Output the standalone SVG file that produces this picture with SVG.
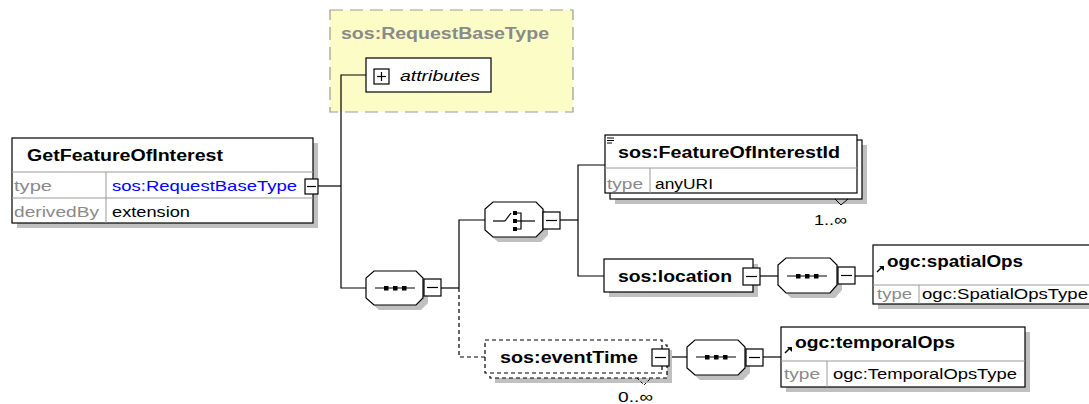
<svg xmlns="http://www.w3.org/2000/svg" width="1089" height="404" viewBox="0 0 1089 404">
<style>
.bx{fill:#fff;stroke:#000;stroke-width:1.2}
.sh{fill:#c0c0c0;stroke:none}
.sep{stroke:#9a9a9a;stroke-width:1}
.ln{fill:none;stroke:#000;stroke-width:1.2}
.dl{fill:none;stroke:#000;stroke-width:1.2;stroke-dasharray:4 3}
.t{font-family:"Liberation Sans",Arial,sans-serif;font-size:15px;fill:#000}
.b{font-weight:bold;font-size:16px}
.g{fill:#8a8a8a}
.bl{fill:#0000ff}
</style>
<defs>
<g id="minus"><rect x="0" y="0" width="17" height="17" fill="#fff" stroke="#000" stroke-width="1.2"/><line x1="3" y1="8.5" x2="14" y2="8.5" stroke="#000" stroke-width="1.2"/></g>
<g id="seqicon"><line x1="-20" y1="0" x2="20" y2="0" stroke="#000" stroke-width="1.2"/><rect x="-11" y="-2" width="4.5" height="4.5"/><rect x="-2" y="-2" width="4.5" height="4.5"/><rect x="7" y="-2" width="4.5" height="4.5"/></g>
<g id="refarrow"><line x1="0" y1="6" x2="5" y2="1" stroke="#000" stroke-width="1.5"/><polygon points="2,0 7,0 7,5"/></g>
</defs>

<g id="requestBaseType">
<rect x="330" y="10" width="243" height="102" fill="#fcfcc6" stroke="#9a9a9a" stroke-width="1.2" stroke-dasharray="13 7"/>
<text class="t b g" x="341" y="39" textLength="208" lengthAdjust="spacingAndGlyphs">sos:RequestBaseType</text>
</g>

<g id="connectors">
<line class="ln" x1="318" y1="186" x2="341" y2="186"/>
<polyline class="ln" points="366,75 341,75 341,288 366,288"/>
<line class="ln" x1="441" y1="288" x2="459" y2="288"/>
<polyline class="ln" points="485,220 459,220 459,288"/>
<polyline class="dl" points="459,288 459,357 485,357"/>
<line class="ln" x1="559" y1="220" x2="578" y2="220"/>
<polyline class="ln" points="605,165 578,165 578,276 604,276"/>
<line class="ln" x1="760" y1="276" x2="778" y2="276"/>
<line class="ln" x1="855" y1="276" x2="873" y2="276"/>
<line class="ln" x1="669" y1="357" x2="687" y2="357"/>
<line class="ln" x1="763" y1="357" x2="781" y2="357"/>
</g>

<g id="attributes">
<rect class="bx" x="366" y="58" width="125" height="34"/>
<rect x="374" y="69" width="15" height="15" fill="#fff" stroke="#000" stroke-width="1.2"/>
<line x1="377" y1="76.5" x2="386" y2="76.5" stroke="#000" stroke-width="1.2"/>
<line x1="381.5" y1="72" x2="381.5" y2="81" stroke="#000" stroke-width="1.2"/>
<text class="t" x="400" y="81" font-style="italic" textLength="80" lengthAdjust="spacingAndGlyphs">attributes</text>
</g>

<g id="getFeatureOfInterest">
<rect class="sh" x="17" y="143" width="301" height="85"/>
<rect class="bx" x="12" y="138" width="301" height="85"/>
<line class="sep" x1="12" y1="172" x2="313" y2="172"/>
<line class="sep" x1="12" y1="198" x2="313" y2="198"/>
<line class="sep" x1="106" y1="172" x2="106" y2="223"/>
<text class="t b" x="27" y="161" textLength="196" lengthAdjust="spacingAndGlyphs">GetFeatureOfInterest</text>
<text class="t g" x="14" y="191" textLength="38" lengthAdjust="spacingAndGlyphs">type</text>
<text class="t bl" x="112" y="191" textLength="185" lengthAdjust="spacingAndGlyphs">sos:RequestBaseType</text>
<text class="t g" x="14" y="217" textLength="85" lengthAdjust="spacingAndGlyphs">derivedBy</text>
<text class="t" x="112" y="217" textLength="78" lengthAdjust="spacingAndGlyphs">extension</text>
<rect x="305" y="179" width="13" height="15" fill="#fff" stroke="#000" stroke-width="1.2"/>
<line x1="307" y1="186.5" x2="316" y2="186.5" stroke="#000" stroke-width="1.2"/>
</g>

<g id="sequence1">
<path class="sh" d="M379,276 H421 L428,283 V303 L421,310 H379 L371,303 V283 Z"/>
<path class="bx" d="M374,271 H416 L423,278 V298 L416,305 H374 L366,298 V278 Z"/>
<use href="#seqicon" x="395" y="288"/>
<use href="#minus" x="424" y="279"/>
</g>

<g id="choice">
<path class="sh" d="M498,207 H541 L548,214 V235 L541,242 H498 L490,235 V214 Z"/>
<path class="bx" d="M493,202 H536 L543,209 V230 L536,237 H493 L485,230 V209 Z"/>
<line x1="493" y1="221" x2="505" y2="221" stroke="#000" stroke-width="1.2"/>
<line x1="505" y1="221" x2="511" y2="213" stroke="#000" stroke-width="1.2"/>
<rect x="513" y="211" width="4" height="4"/>
<rect x="513" y="219" width="4" height="4"/>
<rect x="513" y="227" width="4" height="4"/>
<polyline points="517,213 521,213 521,229 517,229" fill="none" stroke="#000" stroke-width="1.2"/>
<line x1="517" y1="221" x2="535" y2="221" stroke="#000" stroke-width="1.2"/>
<use href="#minus" x="543" y="212"/>
</g>

<g id="featureOfInterestId">
<rect class="sh" x="615" y="145" width="252" height="59"/>
<rect class="bx" x="610" y="140" width="252" height="59"/>
<rect class="bx" x="605" y="135" width="252" height="58"/>
<line class="sep" x1="605" y1="168" x2="857" y2="168"/>
<line class="sep" x1="650" y1="168" x2="650" y2="193"/>
<line x1="607" y1="138" x2="614" y2="138" stroke="#000" stroke-width="1"/>
<line x1="607" y1="140.5" x2="614" y2="140.5" stroke="#000" stroke-width="1"/>
<line x1="607" y1="143" x2="612" y2="143" stroke="#000" stroke-width="1"/>
<text class="t b" x="618" y="158" textLength="222" lengthAdjust="spacingAndGlyphs">sos:FeatureOfInterestId</text>
<text class="t g" x="607" y="189" textLength="36" lengthAdjust="spacingAndGlyphs">type</text>
<text class="t" x="655" y="189" textLength="58" lengthAdjust="spacingAndGlyphs">anyURI</text>
<polyline points="835,199 841,205 848,199" fill="none" stroke="#000" stroke-width="1"/>
<text class="t" x="814" y="225" textLength="33" lengthAdjust="spacingAndGlyphs">1..∞</text>
</g>

<g id="location">
<rect class="sh" x="609" y="264" width="149" height="33"/>
<rect class="bx" x="604" y="259" width="149" height="33"/>
<text class="t b" x="618" y="282" textLength="114" lengthAdjust="spacingAndGlyphs">sos:location</text>
<use href="#minus" x="743" y="268"/>
</g>

<g id="sequence2">
<path class="sh" d="M791,263 H835 L842,270 V290 L835,298 H791 L783,290 V270 Z"/>
<path class="bx" d="M786,258 H830 L837,265 V285 L830,293 H786 L778,285 V265 Z"/>
<use href="#seqicon" x="807" y="276"/>
<use href="#minus" x="838" y="267"/>
</g>

<g id="spatialOps">
<rect class="sh" x="878" y="250" width="230" height="59"/>
<rect class="bx" x="873" y="245" width="230" height="59"/>
<line class="sep" x1="873" y1="285" x2="1089" y2="285"/>
<line class="sep" x1="919" y1="285" x2="919" y2="304"/>
<use href="#refarrow" x="877" y="266"/>
<text class="t b" x="887" y="267" textLength="136" lengthAdjust="spacingAndGlyphs">ogc:spatialOps</text>
<text class="t g" x="877" y="299" textLength="35" lengthAdjust="spacingAndGlyphs">type</text>
<text class="t" x="922" y="299" textLength="166" lengthAdjust="spacingAndGlyphs">ogc:SpatialOpsType</text>
</g>

<g id="eventTime">
<rect class="sh" x="495" y="350" width="177" height="33"/>
<rect x="490" y="345" width="177" height="33" fill="#fff" stroke="#000" stroke-width="1.2" stroke-dasharray="4 3"/>
<rect x="485" y="340" width="177" height="33" fill="#fff" stroke="#000" stroke-width="1.2" stroke-dasharray="4 3"/>
<text class="t b" x="500" y="363" textLength="138" lengthAdjust="spacingAndGlyphs">sos:eventTime</text>
<use href="#minus" x="652" y="349"/>
<polyline points="637,378 644,385 651,378" fill="none" stroke="#000" stroke-width="1" stroke-dasharray="3 2"/>
<text class="t" x="618" y="402" textLength="35" lengthAdjust="spacingAndGlyphs">0..∞</text>
</g>

<g id="sequence3">
<path class="sh" d="M700,345 H743 L750,352 V373 L743,380 H700 L692,373 V352 Z"/>
<path class="bx" d="M695,340 H738 L745,347 V368 L738,375 H695 L687,368 V347 Z"/>
<use href="#seqicon" x="716" y="357"/>
<use href="#minus" x="746" y="349"/>
</g>

<g id="temporalOps">
<rect class="sh" x="786" y="332" width="244" height="60"/>
<rect class="bx" x="781" y="327" width="244" height="60"/>
<line class="sep" x1="781" y1="361" x2="1025" y2="361"/>
<line class="sep" x1="827" y1="361" x2="827" y2="387"/>
<use href="#refarrow" x="785" y="347"/>
<text class="t b" x="795" y="348" textLength="160" lengthAdjust="spacingAndGlyphs">ogc:temporalOps</text>
<text class="t g" x="784" y="379" textLength="36" lengthAdjust="spacingAndGlyphs">type</text>
<text class="t" x="833" y="379" textLength="184" lengthAdjust="spacingAndGlyphs">ogc:TemporalOpsType</text>
</g>
</svg>
